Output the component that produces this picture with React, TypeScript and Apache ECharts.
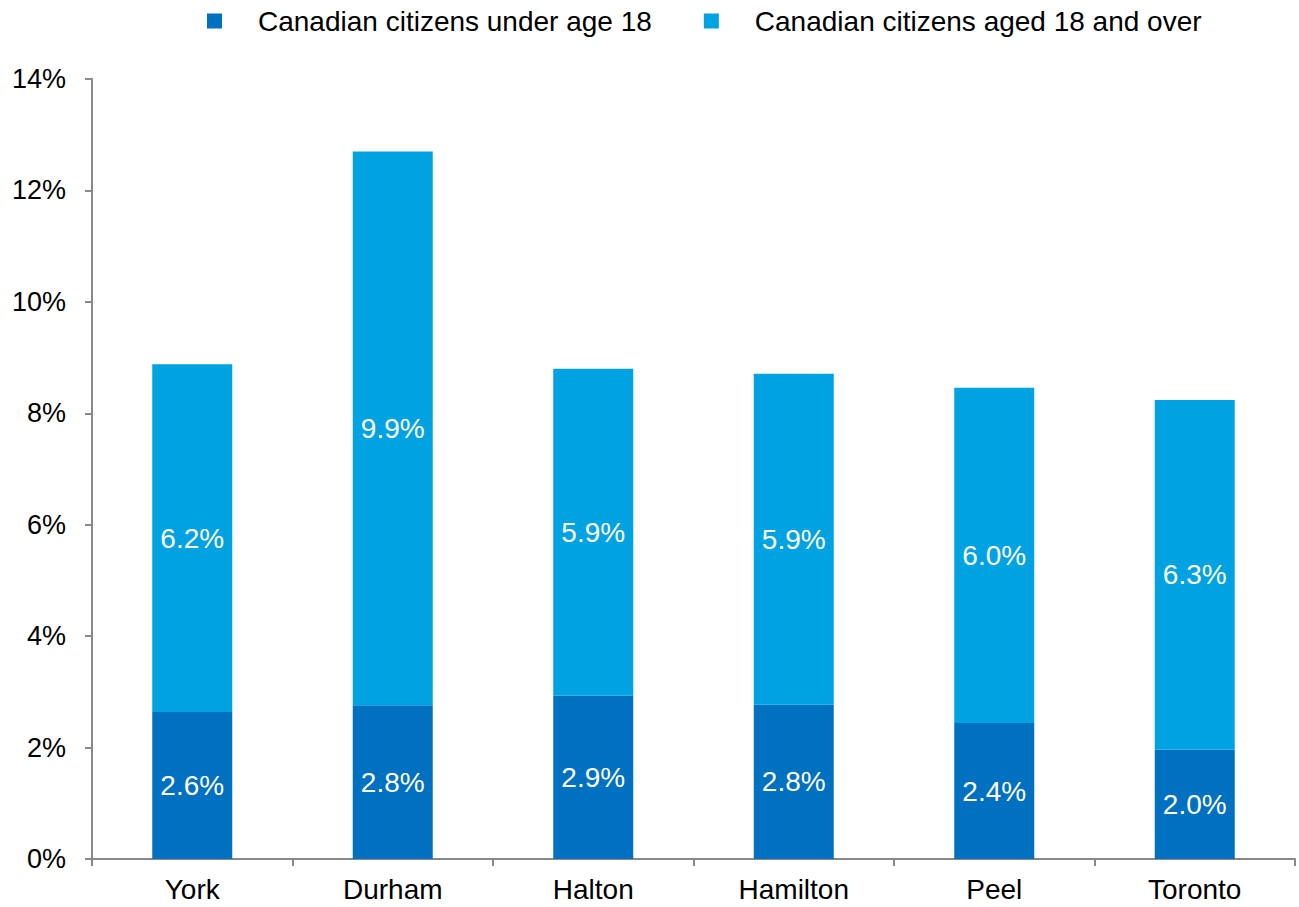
import React, { useEffect, useRef } from "react";
import * as echarts from "echarts";

const categories = ["York", "Durham", "Halton", "Hamilton", "Peel", "Toronto"];
const seriesNames = ["Canadian citizens under age 18", "Canadian citizens aged 18 and over"];
const under18 = [2.64, 2.76, 2.93, 2.77, 2.44, 1.96];
const over18 = [6.24, 9.94, 5.87, 5.94, 6.02, 6.28];
const colors = ["#0070C0", "#00A2E1"];

const FONT = "'Liberation Sans', Arial, sans-serif";
const FS = 28;

export default function App() {
  const ref = useRef<HTMLDivElement>(null);
  useEffect(() => {
    document.body.style.margin = "0";
    const chart = echarts.init(ref.current!, null, { renderer: "svg" });
    const label = {
      show: true,
      position: "inside",
      color: "#ffffff",
      fontSize: FS,
      fontFamily: FONT,
      formatter: (p: any) => Number(p.value).toFixed(1) + "%",
    };
    chart.setOption({
      animation: false,
      textStyle: { fontFamily: FONT },
      legend: {
        left: 202,
        top: 2,
        icon: "rect",
        itemWidth: 15,
        itemHeight: 15,
        itemGap: 52,
        textStyle: { fontSize: FS, color: "#000", fontFamily: FONT, padding: [0, 0, 0, 31] },
        data: seriesNames,
      },
      grid: { left: 92, right: 4, top: 79, bottom: 48, containLabel: false },
      xAxis: {
        type: "category",
        data: categories,
        axisLine: { lineStyle: { color: "#898989", width: 2 } },
        axisTick: { show: true, length: 7, lineStyle: { color: "#898989", width: 2 } },
        axisLabel: { color: "#000", fontSize: FS, fontFamily: FONT, margin: 16 },
      },
      yAxis: {
        type: "value",
        min: 0,
        max: 14,
        interval: 2,
        splitLine: { show: false },
        axisLine: { show: true, lineStyle: { color: "#898989", width: 2 } },
        axisTick: { show: true, length: 7, lineStyle: { color: "#898989", width: 2 } },
        axisLabel: { color: "#000", fontSize: 27, fontFamily: FONT, margin: 26, formatter: "{value}%" },
      },
      series: [
        {
          name: seriesNames[0],
          type: "bar",
          stack: "total",
          barWidth: 80,
          data: under18,
          itemStyle: { color: colors[0] },
          label,
        },
        {
          name: seriesNames[1],
          type: "bar",
          stack: "total",
          barWidth: 80,
          data: over18,
          itemStyle: { color: colors[1] },
          label,
        },
      ],
    });
    return () => chart.dispose();
  }, []);
  return <div ref={ref} style={{ width: 1299, height: 907 }} />;
}
